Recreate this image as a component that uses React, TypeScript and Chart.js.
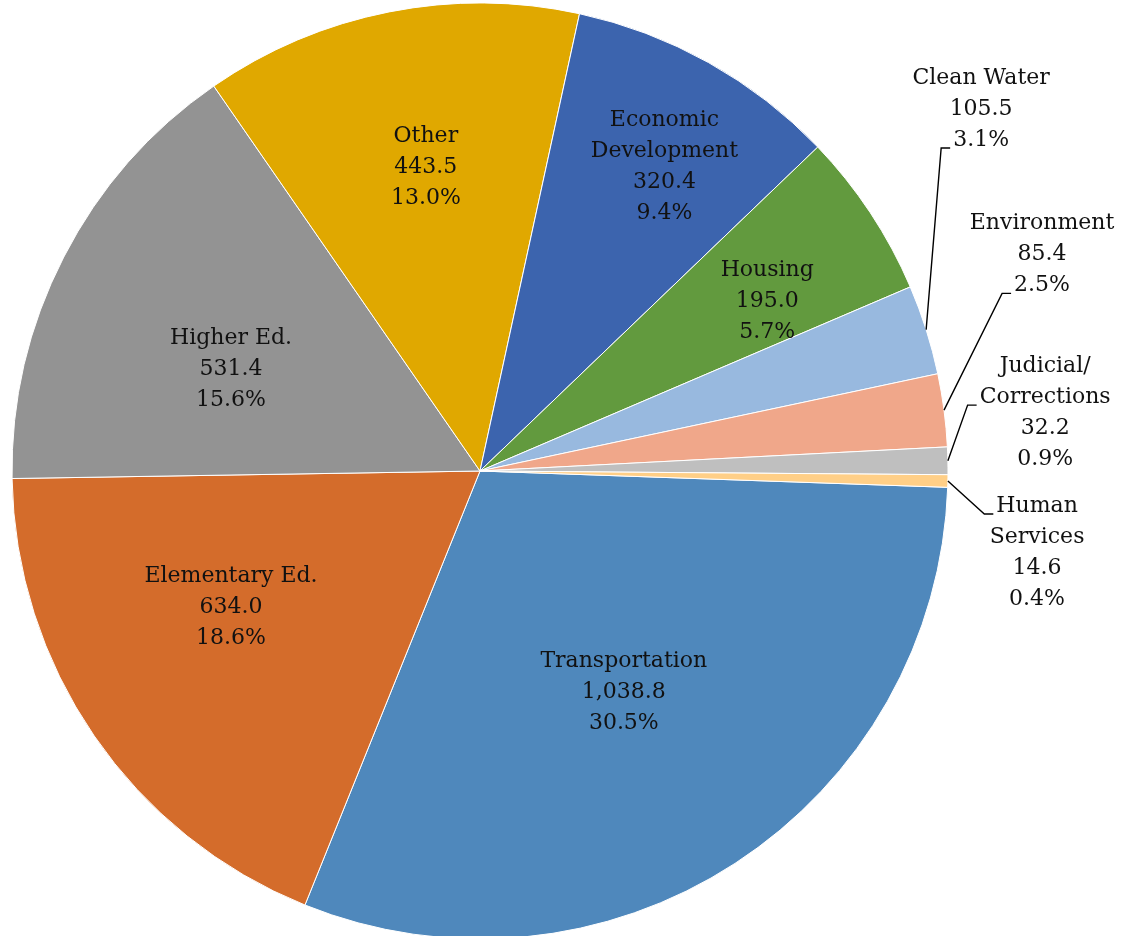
import React, { useEffect, useRef } from "react";
import { Chart, registerables } from "chart.js";

Chart.register(...registerables);

// ---- data ----
const categories = [
  "Transportation",
  "Elementary Ed.",
  "Higher Ed.",
  "Other",
  "Economic Development",
  "Housing",
  "Clean Water",
  "Environment",
  "Judicial/Corrections",
  "Human Services",
];
const labelLines = [
  ["Transportation"],
  ["Elementary Ed."],
  ["Higher Ed."],
  ["Other"],
  ["Economic", "Development"],
  ["Housing"],
  ["Clean Water"],
  ["Environment"],
  ["Judicial/", "Corrections"],
  ["Human", "Services"],
];
const values = [1038.8, 634.0, 531.4, 443.5, 320.4, 195.0, 105.5, 85.4, 32.2, 14.6];
const colors = [
  "#4F88BC",
  "#D46C2B",
  "#939393",
  "#E0A800",
  "#3C64AE",
  "#629A3E",
  "#98B9DF",
  "#F0A78A",
  "#BFBFBF",
  "#FFCF87",
];

// ---- label layout (style only): angle nudge (deg) from slice mid-angle, radius factor, outside leader attach line ----
const labelLayout = [
  { nudge: 0, factor: 0.564 },
  { nudge: 5.7, factor: 0.607 },
  { nudge: -4.9, factor: 0.575 },
  { nudge: 1.1, factor: 0.66 },
  { nudge: 2.0, factor: 0.76 },
  { nudge: 2.9, factor: 0.713 },
  { nudge: -18.27, factor: 1.321, attach: 2 },
  { nudge: -13.6, factor: 1.287, attach: 2 },
  { nudge: -4.65, factor: 1.214, attach: 1 },
  { nudge: 7.1, factor: 1.203, attach: 0 },
];

const FONT = "22px 'DejaVu Serif'";
const LINE_H = 31;

const total = values.reduce((a, b) => a + b, 0);
const fmtVal = (v: number) =>
  v.toLocaleString("en-US", { minimumFractionDigits: 1, maximumFractionDigits: 1 });
const fmtPct = (v: number) => ((v / total) * 100).toFixed(1) + "%";

const labelPlugin = {
  id: "sliceLabels",
  afterDatasetsDraw(chart: any) {
    const ctx = chart.ctx;
    const meta = chart.getDatasetMeta(0);
    ctx.save();
    ctx.font = FONT;
    ctx.fillStyle = "#111";
    ctx.textAlign = "center";
    ctx.textBaseline = "middle";
    meta.data.forEach((arc: any, i: number) => {
      const { x, y, startAngle, endAngle, outerRadius } = arc.getProps(
        ["x", "y", "startAngle", "endAngle", "outerRadius"],
        true
      );
      const mid = (startAngle + endAngle) / 2;
      const lay = labelLayout[i];
      const a = mid + (lay.nudge * Math.PI) / 180;
      const tx = x + Math.cos(a) * outerRadius * lay.factor;
      const ty = y + Math.sin(a) * outerRadius * lay.factor;
      const lines = [...labelLines[i], fmtVal(values[i]), fmtPct(values[i])];
      const y0 = ty - ((lines.length - 1) / 2) * LINE_H;
      lines.forEach((ln, k) => ctx.fillText(ln, tx, y0 + k * LINE_H));
      if (lay.attach !== undefined) {
        const ln = lines[lay.attach];
        const w = ctx.measureText(ln).width;
        const endX = tx - w / 2 - 3;
        const ly = y0 + lay.attach * LINE_H + 8;
        const elbowX = endX - 9;
        const sx = x + Math.cos(mid) * outerRadius;
        const sy = y + Math.sin(mid) * outerRadius;
        ctx.beginPath();
        ctx.strokeStyle = "#000";
        ctx.lineWidth = 1.4;
        ctx.moveTo(sx, sy);
        ctx.lineTo(elbowX, ly);
        ctx.lineTo(endX, ly);
        ctx.stroke();
      }
    });
    ctx.restore();
  },
};

export default function App() {
  const ref = useRef<HTMLCanvasElement | null>(null);
  useEffect(() => {
    if (!ref.current) return;
    const chart = new Chart(ref.current, {
      type: "pie",
      data: {
        labels: categories,
        datasets: [
          {
            data: values,
            backgroundColor: colors,
            borderColor: "#FFFFFF",
            borderWidth: 1,
            hoverBorderWidth: 1,
            hoverOffset: 0,
          },
        ],
      },
      options: {
        responsive: false,
        animation: false,
        rotation: 92,
        radius: 468,
        layout: { padding: { top: 2.5, bottom: 2.5, left: 0, right: 171 } },
        plugins: { legend: { display: false }, tooltip: { enabled: false } },
        events: [],
      },
      plugins: [labelPlugin],
    });
    return () => chart.destroy();
  }, []);
  return (
    <div
      style={{
        position: "fixed",
        left: 0,
        top: 0,
        width: 1131,
        height: 936,
        overflow: "hidden",
        background: "#fff",
      }}
    >
      <canvas ref={ref} width={1131} height={942} style={{ display: "block" }} />
    </div>
  );
}
